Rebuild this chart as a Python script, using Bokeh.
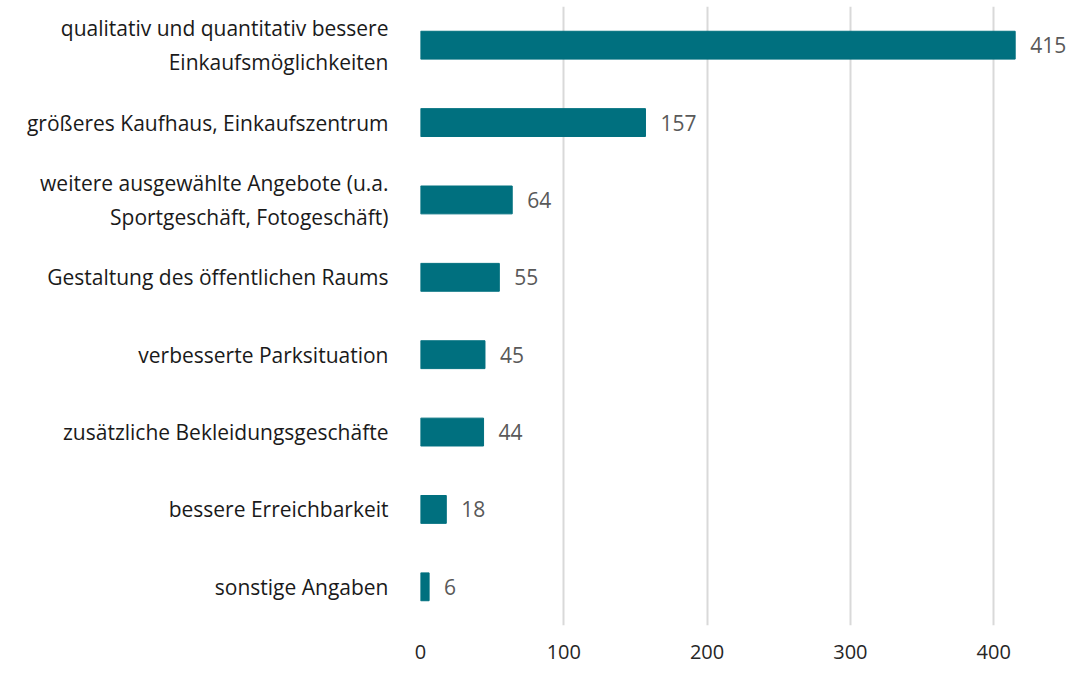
from bokeh.plotting import figure
from bokeh.models import FactorRange, Range1d, FixedTicker, ColumnDataSource
from bokeh.core.properties import value
from bokeh.embed import file_html
from bokeh.resources import INLINE

categories = [
    "qualitativ und quantitativ bessere\nEinkaufsmöglichkeiten",
    "größeres Kaufhaus, Einkaufszentrum",
    "weitere ausgewählte Angebote (u.a.\nSportgeschäft, Fotogeschäft)",
    "Gestaltung des öffentlichen Raums",
    "verbesserte Parksituation",
    "zusätzliche Bekleidungsgeschäfte",
    "bessere Erreichbarkeit",
    "sonstige Angaben",
]
counts = [415, 157, 64, 55, 45, 44, 18, 6]
x_ticks = [0, 100, 200, 300, 400]

FONT = "Open Sans"
BAR = "#00707F"

src = ColumnDataSource(dict(cat=categories, n=counts, lbl=[str(c) for c in counts]))

p = figure(
    width=1072, height=669,
    y_range=FactorRange(factors=list(reversed(categories)), range_padding=0),
    x_range=Range1d(0, 455),
    output_backend="svg", toolbar_location=None,
    min_border_left=420, min_border_right=0, min_border_top=6, min_border_bottom=44,
)
p.outline_line_color = None
p.background_fill_color = "white"

p.hbar(y="cat", right="n", left=0, height=0.36, source=src,
       fill_color=BAR, line_color=BAR)
p.text(x="n", y="cat", text="lbl", source=src, x_offset=15,
       text_baseline="middle", text_align="left",
       text_font=value(FONT), text_font_size="21px", text_color="#595959")

p.xaxis.ticker = FixedTicker(ticks=x_ticks)
p.xgrid.ticker = FixedTicker(ticks=x_ticks)
p.xgrid.grid_line_color = "#D9D9D9"
p.xgrid.grid_line_width = 2
p.ygrid.grid_line_color = None

for ax in (p.xaxis, p.yaxis):
    ax.axis_line_color = None
    ax.major_tick_line_color = None
    ax.minor_tick_line_color = None
    ax.major_label_text_font = FONT

p.xaxis.major_label_text_font_size = "20px"
p.xaxis.major_label_text_color = "#262626"
p.xaxis.major_label_standoff = 13
p.yaxis.major_label_text_font_size = "21px"
p.yaxis.major_label_text_color = "#1a1a1a"
p.yaxis.major_label_standoff = 26

open("out.html", "w").write(file_html(p, INLINE))
